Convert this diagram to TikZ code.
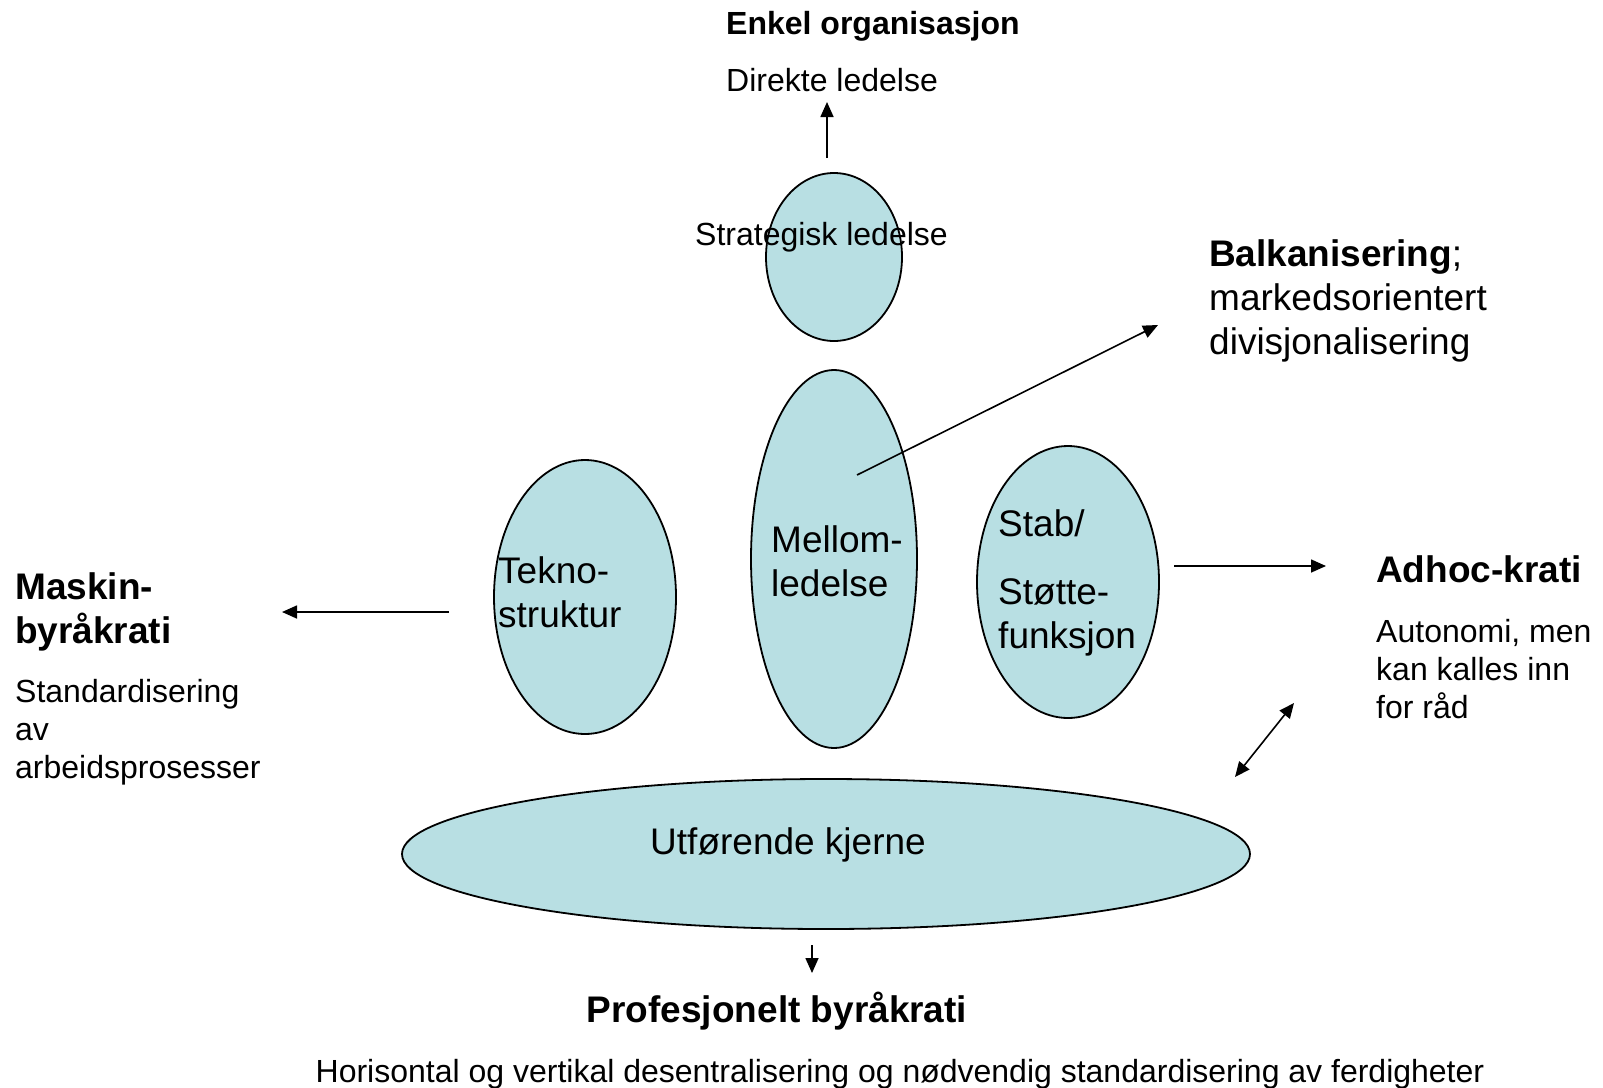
\documentclass[tikz,border=0pt]{standalone}
\usepackage{fontspec}
\setmainfont{Liberation Sans}
\usetikzlibrary{arrows.meta,positioning,calc,shapes.geometric}
\definecolor{core}{HTML}{B8DFE3}
\newcommand{\smalltxt}{\fontsize{32}{38}\selectfont}
\newcommand{\bigtxt}{\fontsize{37}{44}\selectfont}

\begin{document}
\begin{tikzpicture}[x=1pt, y=-1pt,
    part/.style={ellipse, draw, fill=core, line width=1.8pt, inner sep=0pt},
    lbl/.style={inner sep=0pt, align=left},
    arr/.style={line width=1.6pt, -{Triangle[length=15pt,width=13pt]}},
    twoway/.style={line width=1.6pt, {Triangle[length=15pt,width=13pt]}-{Triangle[length=15pt,width=13pt]}}]
  \useasboundingbox (0,0) rectangle (1603,1087);
  % the five parts
  \node[part, minimum width=136pt, minimum height=168pt] (strat)  at (834,257) {};
  \node[part, minimum width=166pt, minimum height=378pt] (mellom) at (834,559) {};
  \node[part, minimum width=182pt, minimum height=274pt] (tekno)  at (585,597) {};
  \node[part, minimum width=182pt, minimum height=272pt] (stab)   at (1068,582) {};
  \node[part, minimum width=848pt, minimum height=150pt] (kjerne) at (826,854) {};
  \node[lbl, anchor=base west, font=\smalltxt] (strattxt) at (695,245) {Strategisk ledelse};
  \node[lbl, anchor=north west, font=\bigtxt] (teknotxt) at (498,556) {Tekno-\\struktur};
  \node[lbl, anchor=north west, font=\bigtxt] (mellomtxt) at (771,525) {Mellom-\\ledelse};
  \node[lbl, anchor=north west, font=\bigtxt] (stabtxt) at (998,509) {Stab/\\[24pt]Støtte-\\funksjon};
  \node[lbl, anchor=base, font=\bigtxt] (kjernetxt) at (788,854) {Utførende kjerne};
  % configurations
  \node[lbl, anchor=base west, font=\bfseries\smalltxt] (enkel) at (726,34) {Enkel organisasjon};
  \node[lbl, anchor=base west, font=\smalltxt] (direkte) at (726,91) {Direkte ledelse};
  \node[lbl, anchor=north west, font=\bigtxt] (balk) at (1209,239) {\textbf{Balkanisering};\\markedsorientert\\divisjonalisering};
  \node[lbl, anchor=north west, font=\bfseries\bigtxt] (maskin) at (15,572) {Maskin-\\byråkrati};
  \node[lbl, anchor=north west, font=\smalltxt] (standard) at (15,679) {Standardisering\\av\\arbeidsprosesser};
  \node[lbl, anchor=base west, font=\bfseries\bigtxt] (adhoc) at (1376,582) {Adhoc-krati};
  \node[lbl, anchor=north west, font=\smalltxt] (autonomi) at (1376,619) {Autonomi, men\\kan kalles inn\\for råd};
  \node[lbl, anchor=base, font=\bfseries\bigtxt] (prof) at (777,1022) {Profesjonelt byråkrati};
  \node[lbl, anchor=base, font=\smalltxt] (horisontal) at (900,1082) {Horisontal og vertikal desentralisering og nødvendig standardisering av ferdigheter};
  % arrow ends
  \coordinate (strattop) at (827,158);
  \coordinate (dirfoot) at (827,102);
  \coordinate (mellomin) at (857,475);
  \coordinate (balkfoot) at (1158,325);
  \coordinate (stabout) at (1174,566);
  \coordinate (adhocin) at (1326,566);
  \coordinate (teknoout) at (449,612);
  \coordinate (maskinin) at (282,612);
  \coordinate (kjernecorner) at (1235,777);
  \coordinate (adhocfoot) at (1294,703);
  \coordinate (kjernefoot) at (812,945);
  \coordinate (profhead) at (812,973);
  \draw[arr] (strattop) -- (dirfoot);
  \draw[arr] (mellomin) -- (balkfoot);
  \draw[arr] (stabout) -- (adhocin);
  \draw[arr] (teknoout) -- (maskinin);
  \draw[twoway] (kjernecorner) -- (adhocfoot);
  \draw[arr] (kjernefoot) -- (profhead);
\end{tikzpicture}
\end{document}
